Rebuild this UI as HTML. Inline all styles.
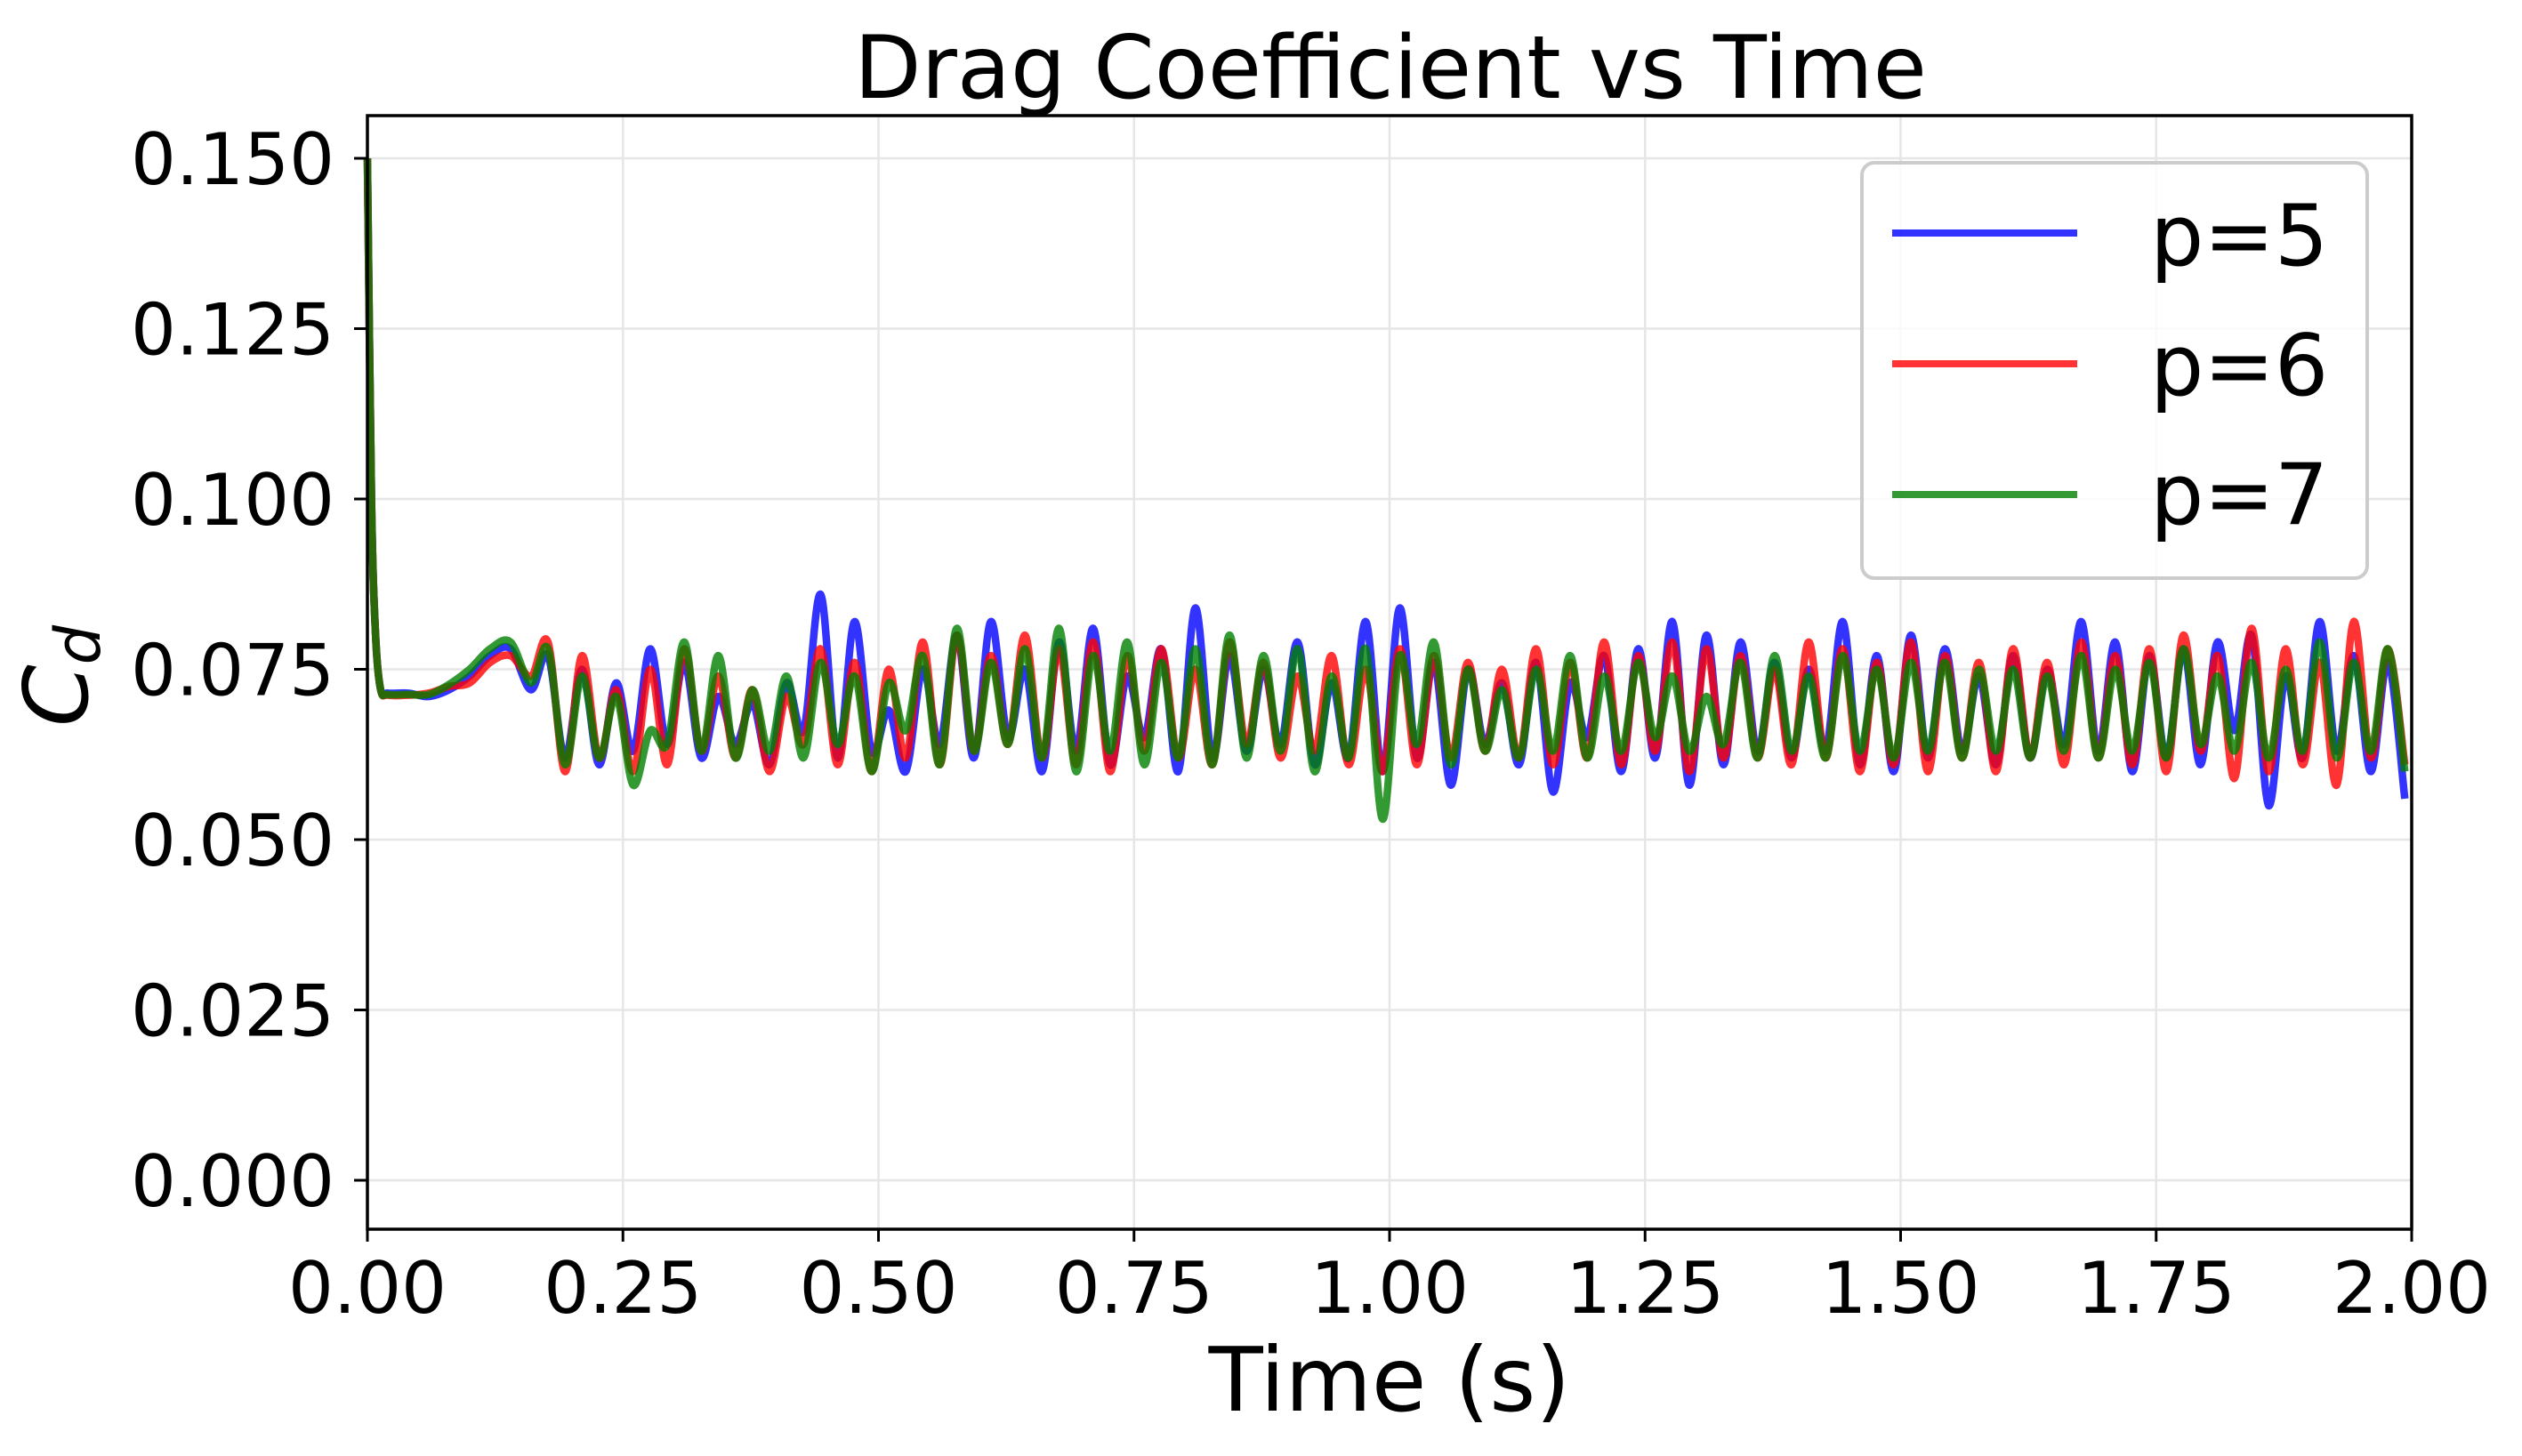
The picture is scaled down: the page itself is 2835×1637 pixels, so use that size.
<!DOCTYPE html>
<html><head><meta charset="utf-8"><style>
html,body{margin:0;padding:0;background:#fff;}
svg{display:block;font-family:"DejaVu Sans","Liberation Sans",sans-serif;}
</style></head><body>
<svg id="chart" width="2835" height="1637" viewBox="0 0 2835 1637" xmlns="http://www.w3.org/2000/svg">
<rect width="2835" height="1637" fill="#fff"/>
<g id="grid"></g>
<g id="series"></g>
<rect x="413" y="130" width="2298" height="1252" fill="none" stroke="#000" stroke-width="3.5"/>
<g id="ticks"></g>
<text x="1563" y="110" font-size="98" text-anchor="middle">Drag Coefficient vs Time</text>
<text x="1562" y="1586" font-size="100" text-anchor="middle">Time (s)</text>
<text transform="translate(98,760) rotate(-90)" font-size="100" text-anchor="middle" font-style="italic">C<tspan font-size="70" dy="14">d</tspan></text>
<g>
<rect x="2093" y="183" width="568" height="467" rx="14" fill="#fff" fill-opacity="0.8" stroke="#ccc" stroke-width="4"/>
<line x1="2127" y1="262" x2="2335" y2="262" stroke="#0000ff" stroke-opacity="0.8" stroke-width="8"/>
<text x="2417" y="298" font-size="95">p=5</text>
<line x1="2127" y1="409" x2="2335" y2="409" stroke="#ff0000" stroke-opacity="0.8" stroke-width="8"/>
<text x="2417" y="444" font-size="95">p=6</text>
<line x1="2127" y1="556" x2="2335" y2="556" stroke="#008000" stroke-opacity="0.8" stroke-width="8"/>
<text x="2417" y="589" font-size="95">p=7</text>
</g>
</svg>
<script>
const xTicks = [0, 0.25, 0.5, 0.75, 1.0, 1.25, 1.5, 1.75, 2.0];
const xTickLabels = ["0.00","0.25","0.50","0.75","1.00","1.25","1.50","1.75","2.00"];
const yTicks = [0, 0.025, 0.05, 0.075, 0.1, 0.125, 0.15];
const yTickLabels = ["0.000","0.025","0.050","0.075","0.100","0.125","0.150"];
const startTimes = [0, 0.004, 0.008, 0.013, 0.02, 0.04, 0.06, 0.08, 0.10, 0.12, 0.14];
const startP5 = [0.150, 0.100, 0.080, 0.072, 0.0715, 0.0715, 0.071, 0.072, 0.074, 0.077, 0.078];
const startP6 = [0.150, 0.100, 0.080, 0.072, 0.0712, 0.0712, 0.0715, 0.0725, 0.073, 0.076, 0.077];
const startP7 = [0.150, 0.100, 0.080, 0.072, 0.0713, 0.0713, 0.0713, 0.0728, 0.075, 0.078, 0.079];
const stepStart = 0.16, stepDt = 1/60;
const p5 = [0.072,0.077,0.062,0.075,0.061,0.073,0.063,0.078,0.064,0.076,0.062,
0.071,0.064,0.070,0.061,0.073,0.066,0.086,0.062,0.082,0.063,
0.069,0.060,0.075,0.064,0.080,0.062,0.082,0.065,0.075,0.060,
0.079,0.063,0.081,0.061,0.074,0.065,0.078,0.060,0.084,0.062,
0.077,0.063,0.075,0.064,0.079,0.061,0.073,0.062,0.082,0.060,
0.084,0.062,0.076,0.058,0.075,0.064,0.073,0.061,0.076,0.057,
0.073,0.065,0.077,0.060,0.078,0.062,0.082,0.058,0.080,0.061,
0.079,0.063,0.076,0.062,0.075,0.063,0.082,0.061,0.077,0.060,
0.080,0.062,0.078,0.063,0.074,0.061,0.077,0.062,0.075,0.064,
0.082,0.063,0.079,0.060,0.077,0.062,0.078,0.061,0.079,0.066,
0.080,0.055,0.074,0.062,0.082,0.063,0.077,0.060,0.076,0.056];
const p6 = [0.074,0.079,0.060,0.077,0.062,0.072,0.060,0.075,0.061,0.078,0.063,
0.074,0.062,0.072,0.060,0.071,0.064,0.078,0.061,0.076,0.060,
0.075,0.062,0.079,0.061,0.080,0.063,0.077,0.064,0.080,0.062,
0.078,0.061,0.079,0.060,0.077,0.063,0.078,0.062,0.075,0.061,
0.079,0.064,0.076,0.062,0.074,0.063,0.077,0.061,0.075,0.060,
0.078,0.061,0.077,0.062,0.076,0.063,0.075,0.062,0.078,0.061,
0.076,0.062,0.079,0.061,0.077,0.063,0.079,0.060,0.078,0.062,
0.077,0.062,0.075,0.061,0.079,0.062,0.078,0.060,0.076,0.061,
0.079,0.060,0.077,0.062,0.076,0.060,0.078,0.062,0.076,0.061,
0.079,0.062,0.077,0.061,0.078,0.060,0.080,0.063,0.077,0.059,
0.081,0.060,0.078,0.061,0.076,0.058,0.082,0.062,0.078,0.061];
const p7 = [0.073,0.078,0.061,0.074,0.062,0.071,0.058,0.066,0.064,0.079,0.063,
0.077,0.062,0.072,0.063,0.074,0.062,0.076,0.064,0.074,0.060,
0.073,0.066,0.077,0.061,0.081,0.063,0.076,0.064,0.078,0.062,
0.081,0.060,0.077,0.063,0.079,0.061,0.076,0.062,0.078,0.061,
0.080,0.062,0.077,0.063,0.078,0.060,0.074,0.062,0.078,0.053,
0.077,0.064,0.079,0.061,0.075,0.063,0.072,0.062,0.075,0.063,
0.077,0.062,0.074,0.063,0.076,0.065,0.074,0.063,0.071,0.064,
0.076,0.062,0.077,0.063,0.074,0.062,0.077,0.063,0.075,0.062,
0.076,0.063,0.076,0.062,0.075,0.063,0.075,0.062,0.074,0.063,
0.077,0.062,0.075,0.063,0.076,0.062,0.078,0.064,0.074,0.063,
0.076,0.062,0.075,0.063,0.079,0.062,0.076,0.063,0.078,0.060];

const NS = "http://www.w3.org/2000/svg";
const X0 = 413, X1 = 2711, Y0 = 1327, Y150 = 178;
function xs(t){ return X0 + (t / 2.0) * (X1 - X0); }
function ys(v){ return Y0 - (v / 0.15) * (Y0 - Y150); }

const grid = document.getElementById('grid');
const ticks = document.getElementById('ticks');
xTicks.forEach((t, i) => {
  const x = xs(t);
  const g = document.createElementNS(NS, 'line');
  g.setAttribute('x1', x); g.setAttribute('x2', x); g.setAttribute('y1', 130); g.setAttribute('y2', 1382);
  g.setAttribute('stroke', '#e6e6e6'); g.setAttribute('stroke-width', '2.5');
  
  
  grid.appendChild(g);
  const tk = document.createElementNS(NS, 'line');
  tk.setAttribute('x1', x); tk.setAttribute('x2', x); tk.setAttribute('y1', 1382); tk.setAttribute('y2', 1396);
  tk.setAttribute('stroke', '#000'); tk.setAttribute('stroke-width', '3');
  
  
  ticks.appendChild(tk);
  const lb = document.createElementNS(NS, 'text');
  lb.setAttribute('x', x); lb.setAttribute('y', 1476); lb.setAttribute('font-size', '80'); lb.setAttribute('text-anchor', 'middle');
  lb.textContent = xTickLabels[i];
  
  
  ticks.appendChild(lb);
});
yTicks.forEach((v, i) => {
  const y = ys(v);
  const g = document.createElementNS(NS, 'line');
  g.setAttribute('x1', 413); g.setAttribute('x2', 2711); g.setAttribute('y1', y); g.setAttribute('y2', y);
  g.setAttribute('stroke', '#e6e6e6'); g.setAttribute('stroke-width', '2.5');
  
  
  grid.appendChild(g);
  const tk = document.createElementNS(NS, 'line');
  tk.setAttribute('x1', 398); tk.setAttribute('x2', 413); tk.setAttribute('y1', y); tk.setAttribute('y2', y);
  tk.setAttribute('stroke', '#000'); tk.setAttribute('stroke-width', '3');
  
  
  ticks.appendChild(tk);
  const lb = document.createElementNS(NS, 'text');
  lb.setAttribute('x', 376); lb.setAttribute('y', y + 29); lb.setAttribute('font-size', '80'); lb.setAttribute('text-anchor', 'end');
  lb.textContent = yTickLabels[i];
  
  
  ticks.appendChild(lb);
});

function smoothPath(pts){
  let d = 'M' + pts[0][0].toFixed(1) + ',' + pts[0][1].toFixed(1);
  for (let i = 0; i < pts.length - 1; i++){
    const p0 = pts[Math.max(0, i-1)], p1 = pts[i], p2 = pts[i+1], p3 = pts[Math.min(pts.length-1, i+2)];
    const c1x = p1[0] + (p2[0]-p0[0])/6, c1y = p1[1] + (p2[1]-p0[1])/6;
    const c2x = p2[0] - (p3[0]-p1[0])/6, c2y = p2[1] - (p3[1]-p1[1])/6;
    d += 'C' + c1x.toFixed(1) + ',' + c1y.toFixed(1) + ' ' + c2x.toFixed(1) + ',' + c2y.toFixed(1) + ' ' + p2[0].toFixed(1) + ',' + p2[1].toFixed(1);
  }
  return d;
}
const seriesG = document.getElementById('series');
function drawSeries(start, vals, color, name){
  const pts = [];
  startTimes.forEach((t, i) => pts.push([xs(t), ys(start[i])]));
  vals.forEach((v, k) => { const t = Math.min(2.0, stepStart + k * stepDt); pts.push([xs(t), ys(v)]); });
  const p = document.createElementNS(NS, 'path');
  p.setAttribute('d', smoothPath(pts));
  p.setAttribute('fill', 'none'); p.setAttribute('stroke', color); p.setAttribute('stroke-opacity', '0.8');
  p.setAttribute('stroke-width', '8.5'); p.setAttribute('stroke-linejoin', 'round');
  
  
  seriesG.appendChild(p);
}
drawSeries(startP5, p5, '#0000ff', 'series-p5');
drawSeries(startP6, p6, '#ff0000', 'series-p6');
drawSeries(startP7, p7, '#008000', 'series-p7');
</script>
</body></html>
